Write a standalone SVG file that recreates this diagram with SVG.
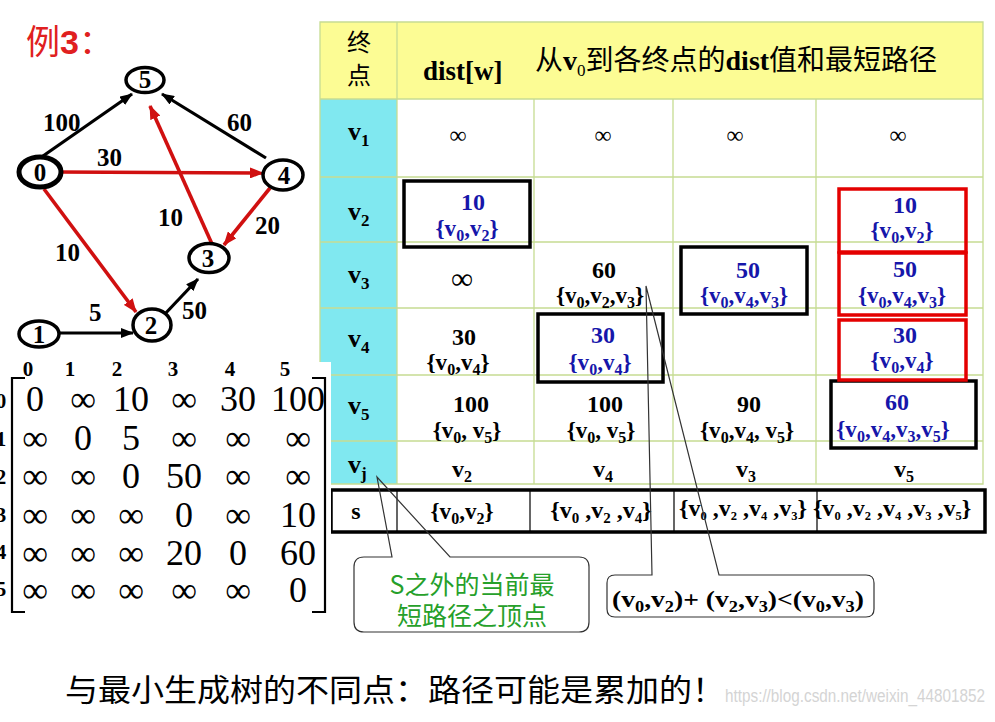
<svg xmlns="http://www.w3.org/2000/svg" width="995" height="722" viewBox="0 0 995 722">
<style>
.ser{font-family:"Liberation Serif","Times New Roman",serif}
.b{font-weight:bold}
.cjk{font-family:"Noto Sans CJK SC","Noto Sans",sans-serif}
.grid{stroke:#c6dc92;stroke-width:1.3;fill:none}
.bk{fill:none;stroke:#000;stroke-width:3.5}
.rd{fill:none;stroke:#e40000;stroke-width:3.5}
.blue{fill:#1616aa}
.val{font-family:"Liberation Serif","Times New Roman",serif;font-weight:bold;font-size:24px;text-anchor:middle}
.set{font-size:23px}
.sub{font-size:16px}
.lbl{font-family:"Liberation Serif","Times New Roman",serif;font-weight:bold;font-size:25px}
.node ellipse{fill:#fff;stroke:#000;stroke-width:3.5}
.node text{font-family:"Liberation Serif","Times New Roman",serif;font-weight:bold;font-size:25px;text-anchor:middle}
.ek{stroke:#000;stroke-width:3.2;fill:none}
.er{stroke:#d01010;stroke-width:3.6;fill:none}
.mx{font-family:"Liberation Serif","Times New Roman",serif;font-size:36px;text-anchor:middle}
.mh{font-family:"Liberation Serif","Times New Roman",serif;font-weight:bold;font-size:21px;text-anchor:middle}
.inf{font-family:"Liberation Serif","Times New Roman",serif;text-anchor:middle}
.co{fill:none;stroke:#333;stroke-width:1.2}
</style>
<defs>
<marker id="ak" markerWidth="13" markerHeight="10" refX="12" refY="5" orient="auto" markerUnits="userSpaceOnUse"><path d="M0,0 L13,5 L0,10 Z" fill="#000"/></marker>
<marker id="ar" markerWidth="14" markerHeight="11" refX="13" refY="5.5" orient="auto" markerUnits="userSpaceOnUse"><path d="M0,0 L14,5.5 L0,11 Z" fill="#d01010"/></marker>
</defs>
<rect width="995" height="722" fill="#fff"/>

<!-- title -->
<text x="26" y="54" font-size="34" fill="#e02020"><tspan class="cjk">例</tspan><tspan font-family="Liberation Sans,Arial,sans-serif" font-weight="bold">3</tspan><tspan class="cjk">：</tspan></text>

<!-- graph connectors -->
<g id="connectors">
<line class="ek" x1="43" y1="156" x2="132" y2="94" marker-end="url(#ak)"/>
<line class="ek" x1="266" y1="158" x2="162" y2="94" marker-end="url(#ak)"/>
<line class="er" x1="57" y1="172" x2="263" y2="173" marker-end="url(#ar)"/>
<line class="er" x1="44" y1="189" x2="136" y2="312" marker-end="url(#ar)"/>
<line class="er" x1="212" y1="244" x2="150" y2="106" marker-end="url(#ar)"/>
<line class="er" x1="270" y1="188" x2="224" y2="245" marker-end="url(#ar)"/>
<line class="ek" x1="163" y1="316" x2="198" y2="279" marker-end="url(#ak)"/>
<line class="ek" x1="60" y1="333" x2="133" y2="333" marker-end="url(#ak)"/>
<text class="lbl" x="43" y="131">100</text>
<text class="lbl" x="227" y="131">60</text>
<text class="lbl" x="97" y="166">30</text>
<text class="lbl" x="55" y="261">10</text>
<text class="lbl" x="158" y="226">10</text>
<text class="lbl" x="255" y="234">20</text>
<text class="lbl" x="89" y="321">5</text>
<text class="lbl" x="182" y="319">50</text>
</g>

<g id="n5" class="node"><ellipse cx="145" cy="80" rx="19" ry="12.5"/><text x="145" y="88">5</text></g>
<g id="n0" class="node"><ellipse cx="40" cy="172" rx="21" ry="15" style="stroke-width:5"/><text x="40" y="181">0</text></g>
<g id="n4" class="node"><ellipse cx="283" cy="175" rx="20" ry="15"/><text x="284" y="184">4</text></g>
<g id="n3" class="node"><ellipse cx="209" cy="258" rx="20" ry="14.5"/><text x="208" y="267">3</text></g>
<g id="n2" class="node"><ellipse cx="152" cy="325" rx="19" ry="16"/><text x="151" y="334">2</text></g>
<g id="n1" class="node"><ellipse cx="39" cy="334" rx="20" ry="13"/><text x="39" y="343">1</text></g>

<!-- table -->
<g id="table">
<rect x="320" y="22" width="663" height="77" fill="#fcfc94"/>
<rect x="320" y="99" width="77" height="385" fill="#80e8f0"/>
<rect x="397" y="99" width="586" height="385" fill="#fff"/>
<path class="grid" d="M320,22 H983 V484 H320 Z M397,22 V484 M534,99 V484 M673,99 V484 M816,99 V484 M320,99 H983 M320,177 H983 M320,242 H983 M320,308 H983 M320,375 H983 M320,441 H983"/>

<text class="cjk" font-size="24" x="359" y="51" text-anchor="middle">终</text>
<text class="cjk" font-size="24" x="359" y="84" text-anchor="middle">点</text>
<text class="ser b" font-size="27" x="423" y="80">dist[w]</text>
<text class="cjk" font-size="28" x="535" y="70">从<tspan class="ser b">v</tspan><tspan class="ser" font-size="17" dy="6">0</tspan><tspan dy="-6">到各终点的</tspan><tspan class="ser b">dist</tspan>值和最短路径</text>

<g class="ser b" font-size="26">
<text x="348" y="140">v<tspan font-size="17" dy="6">1</tspan></text>
<text x="348" y="220">v<tspan font-size="17" dy="6">2</tspan></text>
<text x="348" y="283">v<tspan font-size="17" dy="6">3</tspan></text>
<text x="348" y="347">v<tspan font-size="17" dy="6">4</tspan></text>
<text x="348" y="414">v<tspan font-size="17" dy="6">5</tspan></text>
<text x="348" y="473">v<tspan font-size="17" dy="6">j</tspan></text>
</g>

<g class="inf" font-size="24">
<text x="458" y="143">∞</text><text x="603" y="143">∞</text><text x="735" y="143">∞</text><text x="898" y="143">∞</text>
</g>
<text class="inf" font-size="31" x="462" y="289">∞</text>

<!-- boxes -->
<rect class="bk" x="404" y="181" width="126" height="66"/>
<rect class="bk" x="681" y="247" width="126" height="67"/>
<rect class="bk" x="538" y="314" width="125" height="68"/>
<rect class="bk" x="831" y="381" width="145" height="67"/>
<rect class="rd" x="839" y="189" width="127" height="63"/>
<rect class="rd" x="839" y="253" width="127" height="62"/>
<rect class="rd" x="839" y="320" width="127" height="60"/>

<!-- v2 row -->
<text class="val blue" x="473" y="210">10</text>
<text class="val set blue" x="467" y="236">{v<tspan class="sub" dy="5">0</tspan><tspan dy="-5">,v</tspan><tspan class="sub" dy="5">2</tspan><tspan dy="-5">}</tspan></text>
<text class="val blue" x="905" y="213">10</text>
<text class="val set blue" x="902" y="238">{v<tspan class="sub" dy="5">0</tspan><tspan dy="-5">,v</tspan><tspan class="sub" dy="5">2</tspan><tspan dy="-5">}</tspan></text>

<!-- v3 row -->
<text class="val" x="604" y="278">60</text>
<text class="val set" x="600" y="303">{v<tspan class="sub" dy="5">0</tspan><tspan dy="-5">,v</tspan><tspan class="sub" dy="5">2</tspan><tspan dy="-5">,v</tspan><tspan class="sub" dy="5">3</tspan><tspan dy="-5">}</tspan></text>
<text class="val blue" x="748" y="278">50</text>
<text class="val set blue" x="744" y="303">{v<tspan class="sub" dy="5">0</tspan><tspan dy="-5">,v</tspan><tspan class="sub" dy="5">4</tspan><tspan dy="-5">,v</tspan><tspan class="sub" dy="5">3</tspan><tspan dy="-5">}</tspan></text>
<text class="val blue" x="905" y="277">50</text>
<text class="val set blue" x="902" y="303">{v<tspan class="sub" dy="5">0</tspan><tspan dy="-5">,v</tspan><tspan class="sub" dy="5">4</tspan><tspan dy="-5">,v</tspan><tspan class="sub" dy="5">3</tspan><tspan dy="-5">}</tspan></text>

<!-- v4 row -->
<text class="val" x="464" y="345">30</text>
<text class="val set" x="458" y="370">{v<tspan class="sub" dy="5">0</tspan><tspan dy="-5">,v</tspan><tspan class="sub" dy="5">4</tspan><tspan dy="-5">}</tspan></text>
<text class="val blue" x="603" y="343">30</text>
<text class="val set blue" x="600" y="370">{v<tspan class="sub" dy="5">0</tspan><tspan dy="-5">,v</tspan><tspan class="sub" dy="5">4</tspan><tspan dy="-5">}</tspan></text>
<text class="val blue" x="905" y="343">30</text>
<text class="val set blue" x="902" y="368">{v<tspan class="sub" dy="5">0</tspan><tspan dy="-5">,v</tspan><tspan class="sub" dy="5">4</tspan><tspan dy="-5">}</tspan></text>

<!-- v5 row -->
<text class="val" x="471" y="412">100</text>
<text class="val set" x="467" y="438">{v<tspan class="sub" dy="5">0</tspan><tspan dy="-5">, v</tspan><tspan class="sub" dy="5">5</tspan><tspan dy="-5">}</tspan></text>
<text class="val" x="605" y="412">100</text>
<text class="val set" x="601" y="438">{v<tspan class="sub" dy="5">0</tspan><tspan dy="-5">, v</tspan><tspan class="sub" dy="5">5</tspan><tspan dy="-5">}</tspan></text>
<text class="val" x="749" y="412">90</text>
<text class="val set" x="747" y="438">{v<tspan class="sub" dy="5">0</tspan><tspan dy="-5">,v</tspan><tspan class="sub" dy="5">4</tspan><tspan dy="-5">, v</tspan><tspan class="sub" dy="5">5</tspan><tspan dy="-5">}</tspan></text>
<text class="val blue" x="897" y="410">60</text>
<text class="val set blue" x="893" y="437">{v<tspan class="sub" dy="5">0</tspan><tspan dy="-5">,v</tspan><tspan class="sub" dy="5">4</tspan><tspan dy="-5">,v</tspan><tspan class="sub" dy="5">3</tspan><tspan dy="-5">,v</tspan><tspan class="sub" dy="5">5</tspan><tspan dy="-5">}</tspan></text>

<!-- vj row -->
<g class="val" font-size="25">
<text x="462" y="477">v<tspan class="sub" dy="5">2</tspan></text>
<text x="603" y="477">v<tspan class="sub" dy="5">4</tspan></text>
<text x="746" y="477">v<tspan class="sub" dy="5">3</tspan></text>
<text x="904" y="477">v<tspan class="sub" dy="5">5</tspan></text>
</g>

<!-- s row -->
<rect x="331" y="490" width="654" height="42" fill="#fff" stroke="#000" stroke-width="3.5"/>
<path d="M397,490 V532 M530,490 V532 M674,490 V532 M817,490 V532" stroke="#000" stroke-width="1.2"/>
<text class="val" x="356" y="519" font-size="22">s</text>
<text class="val set" x="462" y="519">{v<tspan class="sub" dy="5">0</tspan><tspan dy="-5">,v</tspan><tspan class="sub" dy="5">2</tspan><tspan dy="-5">}</tspan></text>
<text class="val" font-size="21" x="601" y="518">{v<tspan font-size="15" dy="5">0</tspan><tspan dy="-5"> ,v</tspan><tspan font-size="15" dy="5">2</tspan><tspan dy="-5"> ,v</tspan><tspan font-size="15" dy="5">4</tspan><tspan dy="-5">}</tspan></text>
<text class="val" font-size="17.5" x="743" y="516">{v<tspan font-size="12.5" dy="4">0</tspan><tspan dy="-4"> ,v</tspan><tspan font-size="12.5" dy="4">2</tspan><tspan dy="-4"> ,v</tspan><tspan font-size="12.5" dy="4">4</tspan><tspan dy="-4"> ,v</tspan><tspan font-size="12.5" dy="4">3</tspan><tspan dy="-4">}</tspan></text>
<text class="val" font-size="17.5" x="892" y="516">{v<tspan font-size="12.5" dy="4">0</tspan><tspan dy="-4"> ,v</tspan><tspan font-size="12.5" dy="4">2</tspan><tspan dy="-4"> ,v</tspan><tspan font-size="12.5" dy="4">4</tspan><tspan dy="-4"> ,v</tspan><tspan font-size="12.5" dy="4">3</tspan><tspan dy="-4"> ,v</tspan><tspan font-size="12.5" dy="4">5</tspan><tspan dy="-4">}</tspan></text>
</g>

<!-- matrix -->
<g id="matrix">
<rect x="0" y="362" width="331" height="262" fill="#fff"/>
<path d="M25,378 H12 V612 H25 M312,378 H325 V612 H312" fill="none" stroke="#000" stroke-width="2.2"/>
<g class="mh">
<text x="28" y="376">0</text><text x="70" y="376">1</text><text x="117" y="376">2</text><text x="173" y="376">3</text><text x="230" y="376">4</text><text x="285" y="376">5</text>
<text x="1" y="408">0</text><text x="1" y="446">1</text><text x="1" y="484">2</text><text x="1" y="522">3</text><text x="1" y="559">4</text><text x="1" y="596">5</text>
</g>
<g class="mx">
<text x="35" y="411">0</text><text x="83" y="411">∞</text><text x="131" y="411">10</text><text x="184" y="411">∞</text><text x="238" y="411">30</text><text x="298" y="411">100</text>
<text x="35" y="450">∞</text><text x="83" y="450">0</text><text x="131" y="450">5</text><text x="184" y="450">∞</text><text x="238" y="450">∞</text><text x="298" y="450">∞</text>
<text x="35" y="488">∞</text><text x="83" y="488">∞</text><text x="131" y="488">0</text><text x="184" y="488">50</text><text x="238" y="488">∞</text><text x="298" y="488">∞</text>
<text x="35" y="527">∞</text><text x="83" y="527">∞</text><text x="131" y="527">∞</text><text x="184" y="527">0</text><text x="238" y="527">∞</text><text x="298" y="527">10</text>
<text x="35" y="565">∞</text><text x="83" y="565">∞</text><text x="131" y="565">∞</text><text x="184" y="565">20</text><text x="238" y="565">0</text><text x="298" y="565">60</text>
<text x="35" y="602">∞</text><text x="83" y="602">∞</text><text x="131" y="602">∞</text><text x="184" y="602">∞</text><text x="238" y="602">∞</text><text x="298" y="602">0</text>
</g>
</g>

<!-- callout 1 -->
<g id="callout-vj">
<rect x="354" y="557" width="235" height="75" rx="10" fill="#fff"/>
<path class="co" d="M364,557 H392 L377,477 L450,557 H579 Q589,557 589,567 V622 Q589,632 579,632 H364 Q354,632 354,622 V567 Q354,557 364,557 Z"/>
<text class="cjk" font-size="25" fill="#26a02a" x="472" y="594" text-anchor="middle">S之外的当前最</text>
<text class="cjk" font-size="25" fill="#26a02a" x="472" y="625" text-anchor="middle">短路径之顶点</text>
</g>

<!-- callout 2 -->
<g id="callout-cmp">
<rect x="607" y="575" width="267" height="42" rx="8" fill="#fff"/>
<path class="co" d="M615,575 H652 L646,286 L719,575 H866 Q874,575 874,583 V609 Q874,617 866,617 H615 Q607,617 607,609 V583 Q607,575 615,575 Z"/>
<text class="ser b" font-size="24" x="612" y="607" textLength="252" lengthAdjust="spacingAndGlyphs">(v<tspan font-size="16" dy="5">0</tspan><tspan dy="-5">,v</tspan><tspan font-size="16" dy="5">2</tspan><tspan dy="-5">)+ (v</tspan><tspan font-size="16" dy="5">2</tspan><tspan dy="-5">,v</tspan><tspan font-size="16" dy="5">3</tspan><tspan dy="-5">)&lt;(v</tspan><tspan font-size="16" dy="5">0</tspan><tspan dy="-5">,v</tspan><tspan font-size="16" dy="5">3</tspan><tspan dy="-5">)</tspan></text>
</g>

<!-- bottom note -->
<text class="cjk" font-size="31" x="65" y="701" textLength="660" lengthAdjust="spacingAndGlyphs">与最小生成树的不同点：路径可能是累加的！</text>
<text font-family="Liberation Sans,Arial,sans-serif" font-size="18" fill="#d4d4d4" x="725" y="702" textLength="260" lengthAdjust="spacingAndGlyphs">https://blog.csdn.net/weixin_44801852</text>
</svg>
